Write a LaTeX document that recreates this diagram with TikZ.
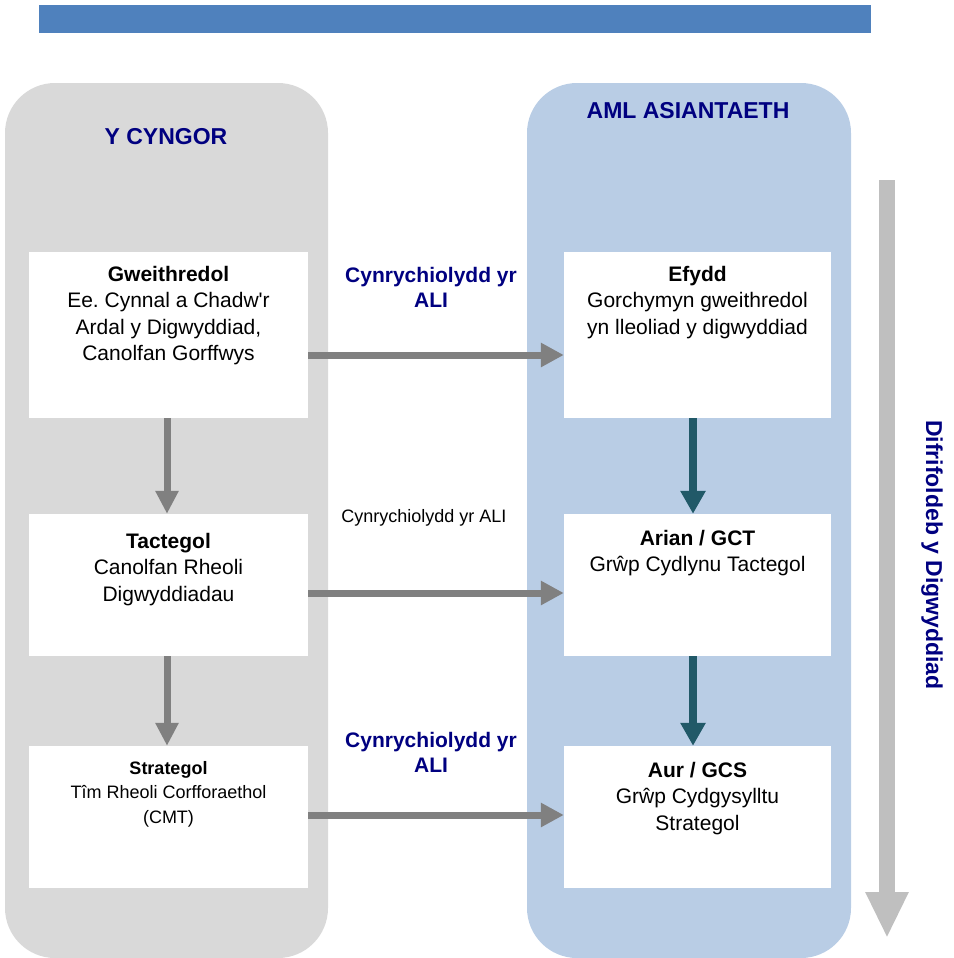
\documentclass[tikz,border=0pt]{standalone}
\usepackage{fontspec}
\setmainfont{Liberation Sans}
\usepackage{xcolor}
\usetikzlibrary{arrows.meta,positioning}

\definecolor{bartop}{RGB}{79,129,189}
\definecolor{panelgray}{RGB}{217,217,217}
\definecolor{panelblue}{RGB}{185,205,229}
\definecolor{navytext}{RGB}{0,0,128}
\definecolor{arrowgray}{RGB}{128,128,128}
\definecolor{arrowteal}{RGB}{33,89,104}
\definecolor{arrowlight}{RGB}{191,191,191}
\frenchspacing

\begin{document}
\begin{tikzpicture}[x=1pt,y=-1pt,
  lbox/.style={fill=white,inner sep=0pt,minimum width=279pt,minimum height=#1},
  rbox/.style={fill=white,inner sep=0pt,minimum width=267pt,minimum height=#1},
  boxtext/.style={align=center,inner sep=0pt,font=\fontsize{21}{26.5}\selectfont},
  smalltext/.style={align=center,inner sep=0pt,font=\fontsize{18}{24.5}\selectfont},
  paneltitle/.style={text=navytext,inner sep=0pt,font=\bfseries\fontsize{23}{26}\selectfont},
  alilabel/.style={align=center,inner sep=0pt,text=navytext,font=\bfseries\fontsize{21}{25}\selectfont},
  harrow/.style={arrowgray,line width=7pt,-{Triangle[width=23pt,length=23pt]}},
  varrow/.style={arrowgray,line width=7pt,-{Triangle[width=22pt,length=23pt]}},
  tarrow/.style={arrowteal,line width=8pt,-{Triangle[width=24pt,length=23pt]}},
  bigarrow/.style={arrowlight,line width=16pt,-{Triangle[width=40pt,length=46pt]}}]
	\useasboundingbox (0,0) rectangle (953,958);
	
	% 顶部蓝条
	\fill[bartop] (39,5) rectangle (871,33);
	
	% 两个圆角面板
	\fill[panelgray, rounded corners=50pt] (5,83) rectangle (328,958);
	\fill[panelblue, rounded corners=50pt] (527,83) rectangle (851,958);
	\node[paneltitle] (cyngor) at (166,137) {Y CYNGOR};
	\node[paneltitle] (aml) at (688,111) {AML ASIANTAETH};
	
	% 左列方框（Y Cyngor）
	\node[lbox=166pt] (gweith) at (168.5,335) {};
	\node[lbox=142pt] (tacteg) at (168.5,585) {};
	\node[lbox=142pt] (strat) at (168.5,817) {};
	\node[boxtext, below=14pt of gweith.north] (gweithtxt)
		{\textbf{Gweithredol}\\Ee. Cynnal a Chadw\textquotesingle r\\Ardal y Digwyddiad,\\Canolfan Gorffwys};
	\node[boxtext, below=19pt of tacteg.north] (tactegtxt)
		{\textbf{Tactegol}\\Canolfan Rheoli\\Digwyddiadau};
	\node[smalltext, below=15pt of strat.north] (strattxt)
		{\textbf{Strategol}\\Tîm Rheoli Corfforaethol\\(CMT)};
	
	% 右列方框（Aml Asiantaeth）
	\node[rbox=166pt] (efydd) at (697.5,335) {};
	\node[rbox=142pt] (arian) at (697.5,585) {};
	\node[rbox=142pt] (aur) at (697.5,817) {};
	\node[boxtext, below=14pt of efydd.north] (efyddtxt)
		{\textbf{Efydd}\\Gorchymyn gweithredol\\yn lleoliad y digwyddiad};
	\node[boxtext, below=16pt of arian.north] (ariantxt)
		{\textbf{Arian / GCT}\\Grŵp Cydlynu Tactegol};
	\node[boxtext, below=16pt of aur.north] (aurtxt)
		{\textbf{Aur / GCS}\\Grŵp Cydgysylltu\\Strategol};
	
	% 中间标签
	\node[alilabel] (ali1) at (431,287) {Cynrychiolydd yr\\ALI};
	\node[smalltext] (ali2) at (424,518) {Cynrychiolydd yr ALI};
	\node[alilabel] (ali3) at (431,752) {Cynrychiolydd yr\\ALI};
	
	% 横向箭头
	\draw[harrow] (gweith.east |- 0,355) -- (efydd.west |- 0,355);
	\draw[harrow] (tacteg.east |- 0,593) -- (arian.west |- 0,593);
	\draw[harrow] (strat.east |- 0,815) -- (aur.west |- 0,815);
	
	% 纵向箭头
	\draw[varrow] ([xshift=-1.5pt]gweith.south) -- ([xshift=-1.5pt]tacteg.north);
	\draw[varrow] ([xshift=-1.5pt]tacteg.south) -- ([xshift=-1.5pt]strat.north);
	\draw[tarrow] ([xshift=-4.5pt]efydd.south) -- ([xshift=-4.5pt]arian.north);
	\draw[tarrow] ([xshift=-4.5pt]arian.south) -- ([xshift=-4.5pt]aur.north);
	
	% 右侧大箭头
	\coordinate (dtop) at (887,180);
	\coordinate (dbot) at (887,938);
	\draw[bigarrow] (dtop) -- (dbot);
	\node[paneltitle, rotate=-90] (difrif) at (932,555) {Difrifoldeb y Digwyddiad};
\end{tikzpicture}
\end{document}
